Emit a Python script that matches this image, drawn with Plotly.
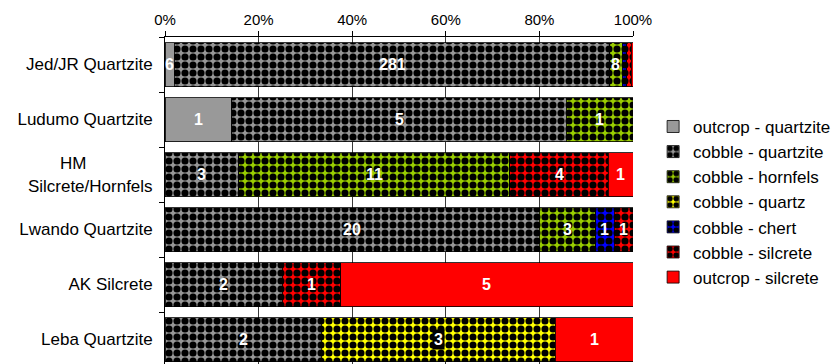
import plotly.graph_objects as go

# Raw artefact counts per site, by raw-material source
sites = ["Jed/JR Quartzite", "Ludumo Quartzite",
         "HM\u00a0\u00a0\u00a0\u00a0\u00a0\u00a0\u00a0\u00a0\u00a0\u00a0\u00a0\u00a0\u00a0\u00a0<br>Silcrete/Hornfels",
         "Lwando Quartzite", "AK Silcrete", "Leba Quartzite"]

outcrop_quartzite = [6, 1, 0, 0, 0, 0]
cobble_quartzite = [281, 5, 3, 20, 2, 2]
cobble_hornfels = [8, 1, 11, 3, 0, 0]
cobble_quartz = [0, 0, 0, 0, 0, 3]
cobble_chert = [3, 0, 0, 1, 0, 0]
cobble_silcrete = [3, 0, 4, 1, 1, 0]
outcrop_silcrete = [1, 0, 1, 0, 5, 1]

percent_ticks = [0, 20, 40, 60, 80, 100]
percent_labels = ["0%", "20%", "40%", "60%", "80%", "100%"]

series = [
    ("outcrop - quartzite", outcrop_quartzite, "#999999", False),
    ("cobble - quartzite", cobble_quartzite, "#969696", True),
    ("cobble - hornfels", cobble_hornfels, "#99cc00", True),
    ("cobble - quartz", cobble_quartz, "#ffff00", True),
    ("cobble - chert", cobble_chert, "#0000ff", True),
    ("cobble - silcrete", cobble_silcrete, "#ff0000", True),
    ("outcrop - silcrete", outcrop_silcrete, "#ff0000", False),
]

FONT = "Liberation Sans, Arial, sans-serif"

fig = go.Figure()
for i, (name, vals, color, patterned) in enumerate(series):
    marker = dict(color=color, line=dict(color="#000000", width=0.8))
    if patterned:
        marker["pattern"] = dict(shape=".", fgcolor="#000000", bgcolor=color,
                                 size=8, solidity=0.62, fillmode="replace")
    fig.add_trace(go.Bar(
        y=sites, x=vals, name=name, orientation="h",
        marker=marker, legendgroup=f"g{i}", hoverinfo="skip",
    ))

# Count labels centred in each segment (slivers under 1.5% stay unlabelled)
totals = [sum(s[1][j] for s in series) for j in range(len(sites))]
for j, site in enumerate(sites):
    cum = 0.0
    for name, vals, color, patterned in series:
        v = vals[j]
        if v == 0:
            continue
        share = 100.0 * v / totals[j]
        mid = cum + share / 2
        cum += share
        if share < 1.5:
            continue
        boxed = name == "cobble - quartz"
        fig.add_annotation(
            x=mid, y=site, text=str(v), showarrow=False, xanchor="center",
            font=dict(family=FONT, size=16, color="#ffffff", weight="bold"),
            bgcolor="#000000" if boxed else None, borderpad=1,
        )

fig.update_layout(
    width=838, height=364,
    margin=dict(l=165, r=205, t=37, b=0),
    paper_bgcolor="#ffffff", plot_bgcolor="#ffffff",
    barmode="stack", barnorm="percent", bargap=0.2,
    font=dict(family=FONT, size=15, color="#000000"),
    showlegend=True,
    legend=dict(x=1.043, y=0.78, xanchor="left", yanchor="top",
                font=dict(family=FONT, size=17, color="#000000"),
                tracegroupgap=0, bgcolor="rgba(0,0,0,0)"),
    xaxis=dict(side="top", range=[0, 100], tickvals=percent_ticks,
               ticktext=percent_labels, showgrid=True, gridcolor="#3a3a3a",
               gridwidth=1, zeroline=False, showline=True,
               linecolor="#000000", linewidth=1, ticks="outside", ticklen=5,
               tickcolor="#000000", tickfont=dict(family=FONT, size=15)),
    yaxis=dict(range=[5.445, -0.5], showgrid=False, showline=True,
               linecolor="#000000", linewidth=1, ticks="outside", ticklen=5,
               tickson="boundaries", tickcolor="#000000", ticklabelstandoff=8,
               tickfont=dict(family=FONT, size=17)),
)

fig.write_html("out.html")
